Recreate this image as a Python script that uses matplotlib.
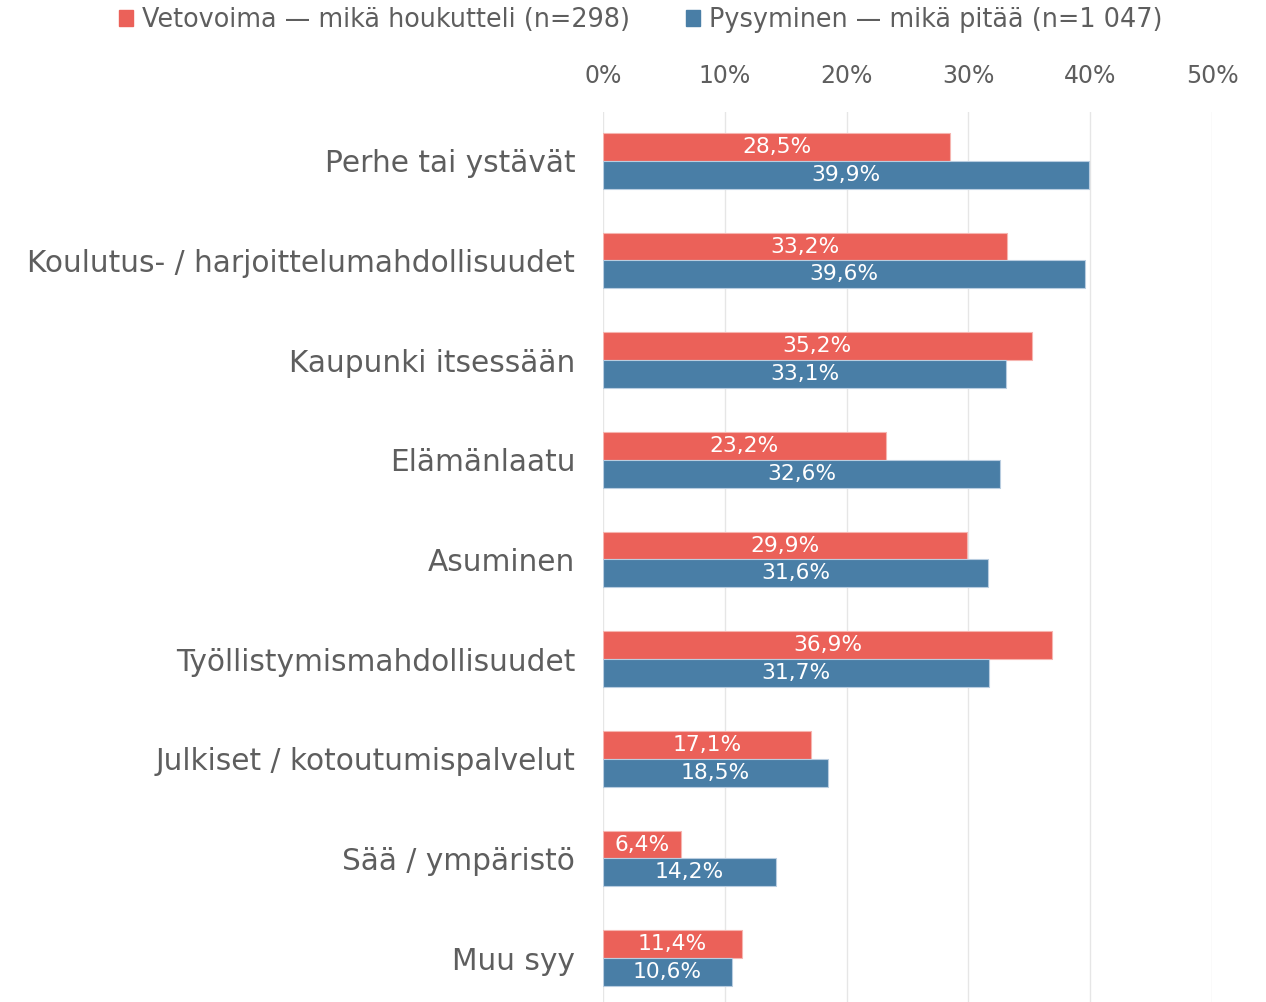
import matplotlib.pyplot as plt
import numpy as np
from matplotlib.patches import Patch

categories = ["Perhe tai ystävät", "Koulutus- / harjoittelumahdollisuudet",
              "Kaupunki itsessään", "Elämänlaatu", "Asuminen",
              "Työllistymismahdollisuudet", "Julkiset / kotoutumispalvelut",
              "Sää / ympäristö", "Muu syy"]
vetovoima = [28.5, 33.2, 35.2, 23.2, 29.9, 36.9, 17.1, 6.4, 11.4]
pysyminen = [39.9, 39.6, 33.1, 32.6, 31.6, 31.7, 18.5, 14.2, 10.6]
ticks = [0, 10, 20, 30, 40, 50]
series_names = ["Vetovoima — mikä houkutteli (n=298)", "Pysyminen — mikä pitää (n=1 047)"]

red = "#EB6159"
blue = "#497EA6"
grey = "#5e5e5e"
plt.rcParams['font.family'] = ['DejaVu Sans']

fig = plt.figure(figsize=(12.66, 10.02), dpi=100)
ax = fig.add_axes([603 / 1266, 0, 609 / 1266, 1 - 112 / 1002])

y = np.arange(len(categories))
h = 0.28
ax.barh(y - h / 2, vetovoima, height=h, color=red, edgecolor="#f6b5b0", linewidth=0.8, zorder=3)
ax.barh(y + h / 2, pysyminen, height=h, color=blue, edgecolor="#b9cde0", linewidth=0.8, zorder=3)

def fmt(v):
    return ("%.1f%%" % v).replace(".", ",")

for i in range(len(categories)):
    ax.text(vetovoima[i] / 2, y[i] - h / 2, fmt(vetovoima[i]), ha="center", va="center",
            color="white", fontsize=15.7, zorder=4)
    ax.text(pysyminen[i] / 2, y[i] + h / 2, fmt(pysyminen[i]), ha="center", va="center",
            color="white", fontsize=15.7, zorder=4)

ax.set_xlim(0, 50)
ax.set_ylim(8.44, -0.49)
ax.set_xticks(ticks)
ax.set_xticklabels(["%d%%" % t for t in ticks])
ax.xaxis.tick_top()
ax.tick_params(axis="x", length=0, pad=17, labelsize=17, labelcolor=grey)
ax.set_yticks(y)
ax.set_yticklabels(categories)
ax.tick_params(axis="y", length=0, pad=20, labelsize=21.3, labelcolor=grey)
ax.grid(axis="x", color="#e6e6e6", linewidth=1, zorder=0)
for s in ax.spines.values():
    s.set_visible(False)

handles = [Patch(color=red), Patch(color=blue)]
fig.legend(handles, series_names, loc="center", bbox_to_anchor=(641 / 1266, 1 - 20 / 1002),
           ncol=2, frameon=False, fontsize=18.4, labelcolor=grey, handlelength=0.55,
           handleheight=0.55, handletextpad=0.35, columnspacing=2.2)

plt.savefig("out.png", dpi=100)
